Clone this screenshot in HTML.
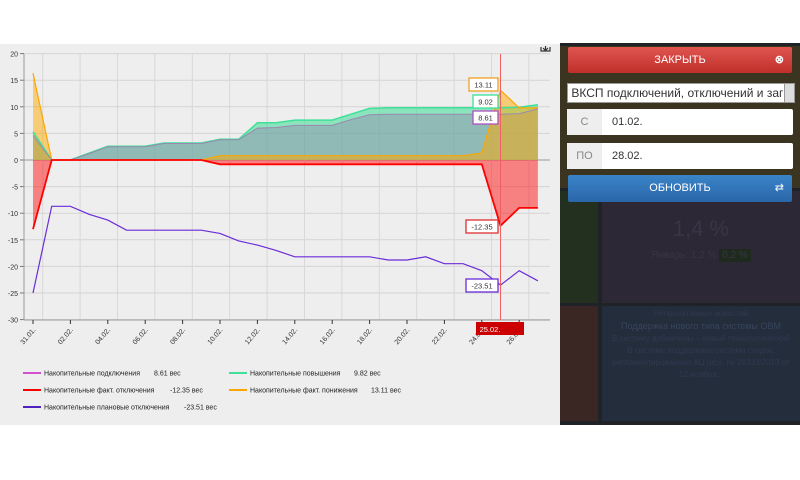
<!DOCTYPE html>
<html><head><meta charset="utf-8"><style>
body{margin:0;width:800px;height:480px;background:#fff;position:relative;overflow:hidden;font-family:"Liberation Sans",sans-serif}
#chart{position:absolute;left:0;top:44px;width:560px;height:381px;background:#eeeeee}
#panel{position:absolute;left:560px;top:43px;width:240px;height:382px;background:#1f2226}
.t{position:absolute}
.btn{position:absolute;left:8px;width:224px;height:26px;color:#fff;font-size:11px;text-align:center;line-height:26px;border-radius:2px}
</style></head><body>
<div id="chart"></div>
<svg width="560" height="430" style="position:absolute;left:0;top:0" font-family="Liberation Sans, sans-serif">
<g id="g"></g>
</svg>
<div id="panel">
 <div class="t" style="left:0;top:3px;width:240px;height:142px;background:#3a3421"></div>
 <div class="t" style="left:0;top:148px;width:38px;height:112px;background:#24301f"></div>
 <div class="t" style="left:42px;top:148px;width:198px;height:112px;background:#2c2836"></div>
 <div class="t" style="left:0;top:263px;width:38px;height:115px;background:#3a2723"></div>
 <div class="t" style="left:42px;top:263px;width:198px;height:115px;background:#232d3c"></div>
 <div class="t" style="left:42px;top:173px;width:198px;text-align:center;color:#3a3546;font-size:22px">1,4 %</div>
 <div class="t" style="left:42px;top:207px;width:198px;text-align:center;color:#3a3546;font-size:10px">Январь: 1,2 % <span style="background:#1f2a1f;padding:1px 3px">0,2 %</span></div>
 <div class="t" style="left:42px;top:265px;width:198px;text-align:center;color:#2f3a50;font-size:8px;line-height:12px;white-space:nowrap">Непрочитанных новостей<br><span style="font-size:9px;color:#37445c">Поддержка нового типа системы ОВМ</span><br>В систему добавлены – новый технологический<br>В системе поддержана система скидок,<br>регламентированных КЦ (исх. № 26333/2013 от<br>12 ноября...</div>
 <div class="btn" style="top:4px;background:linear-gradient(#e05550,#c0302a)">ЗАКРЫТЬ<span style="position:absolute;right:8px;font-weight:bold">⊗</span></div>
 <div class="t" style="left:7px;top:40px;width:226px;height:18px;background:#fff;border:1px solid #999;font-size:12px;line-height:18px;overflow:hidden;white-space:nowrap;color:#333">&nbsp;ВКСП подключений, отключений и заг<span style="position:absolute;right:0;top:0;width:9px;height:18px;background:#ddd;border-left:1px solid #999"></span></div>
 <div class="t" style="left:7px;top:66px;width:226px;height:26px;background:#fff;border-radius:2px;font-size:11px;line-height:26px"><span style="display:inline-block;width:35px;background:#eee;color:#888;text-align:center">С</span><span style="padding-left:10px;color:#333">01.02.</span></div>
 <div class="t" style="left:7px;top:100px;width:226px;height:26px;background:#fff;border-radius:2px;font-size:11px;line-height:26px"><span style="display:inline-block;width:35px;background:#eee;color:#888;text-align:center">ПО</span><span style="padding-left:10px;color:#333">28.02.</span></div>
 <div class="btn" style="top:132px;height:27px;background:linear-gradient(#3a84c8,#2a66a8)">ОБНОВИТЬ<span style="position:absolute;right:8px">⇄</span></div>
</div>
<script>
const X=d=>33+18.7*d, Y=v=>160-5.32*v;
let s='';
for(let v=20;v>=-30;v-=5){const y=Y(v);s+=`<line x1="24" x2="550" y1="${y}" y2="${y}" stroke="${v==0?'#999':'#d4d4d4'}"/><text x="18" y="${y+3}" font-size="7" text-anchor="end" fill="#333">${v}</text><line x1="20" x2="24" y1="${y}" y2="${y}" stroke="#777"/>`;}
for(let i=0;i<14;i++){const x=X(2*i+1)-9;s+=`<line x1="${x}" x2="${x}" y1="54" y2="320" stroke="#d8d8d8"/>`;}
s+=`<line x1="24" x2="24" y1="54" y2="320" stroke="#999"/><line x1="24" x2="550" y1="320" y2="320" stroke="#999"/>`;
const labs=['31.01.','02.02.','04.02.','06.02.','08.02.','10.02.','12.02.','14.02.','16.02.','18.02.','20.02.','22.02.','24.02.','26.02.'];
labs.forEach((l,i)=>{const x=X(2*i);s+=`<line x1="${x}" x2="${x}" y1="320" y2="324" stroke="#333"/><text transform="translate(${x+3},330) rotate(-50)" font-size="7" text-anchor="end" fill="#333">${l}</text>`;});
const green=[5.3,0,0,1.3,2.6,2.6,2.6,3.2,3.2,3.2,3.9,3.9,7,7,7.5,7.5,7.5,8.6,9.7,9.82,9.82,9.82,9.82,9.82,9.82,9.82,9.9,10.4];
const purp=[4.6,0,0,1.2,2.5,2.5,2.5,3.1,3.1,3.1,3.8,3.8,6,6.1,6.5,6.5,6.5,7.6,8.5,8.61,8.61,8.61,8.61,8.61,8.61,8.61,8.7,9.6];
const oran=[16.3,0,0,0,0,0,0,0,0,0,0.8,0.8,0.8,0.8,0.8,0.8,0.8,0.8,0.8,0.8,0.8,0.8,0.8,0.8,1.3,13.11,9.8,9.8];
const red=[-13,0,0,0,0,0,0,0,0,0,-0.8,-0.8,-0.8,-0.8,-0.8,-0.8,-0.8,-0.8,-0.8,-0.8,-0.8,-0.8,-0.8,-0.8,-0.8,-12.35,-9,-9];
const plan=[-25,-8.7,-8.7,-10.2,-11.3,-13.2,-13.2,-13.2,-13.2,-13.2,-13.8,-15.2,-16,-17,-18.2,-18.2,-18.2,-18.2,-18.2,-18.8,-18.8,-18.2,-19.5,-19.5,-20.8,-23.51,-20.8,-22.7];
const pts=a=>a.map((v,i)=>X(i).toFixed(1)+','+Y(v).toFixed(1)).join(' ');
const area=(a,f)=>`<polygon points="${X(0)},160 ${pts(a)} ${X(27)},160" fill="${f}"/>`;
s+=area(green,'rgba(60,220,150,0.55)')+area(purp,'rgba(150,110,170,0.35)')+area(oran,'rgba(255,170,0,0.5)')+area(red,'rgba(255,20,20,0.5)');
s+=`<polyline points="${pts(green)}" fill="none" stroke="#3ee09a" stroke-width="1.5"/>`;
s+=`<polyline points="${pts(purp)}" fill="none" stroke="#9a88b0" stroke-width="1"/>`;
s+=`<polyline points="${pts(oran)}" fill="none" stroke="#ffa500" stroke-width="1.2"/>`;
s+=`<polyline points="${pts(red)}" fill="none" stroke="#ff0000" stroke-width="1.8"/>`;
s+=`<polyline points="${pts(plan)}" fill="none" stroke="#6a2cd8" stroke-width="1.2"/>`;
s+=`<line x1="500.5" x2="500.5" y1="54" y2="320" stroke="#f06060"/>`;
const tip=(x,y,w,c,t)=>`<rect x="${x}" y="${y}" width="${w}" height="13" fill="#fff" stroke="${c}" stroke-width="1.3"/><text x="${x+w/2}" y="${y+9.5}" font-size="7.5" text-anchor="middle" fill="#333">${t}</text>`;
s+=tip(469,78,29,'#f0a020','13.11')+tip(473,95,25,'#3ee09a','9.02')+tip(473,111,25,'#b050c0','8.61')+tip(466,220,32,'#e03030','-12.35')+tip(466,279,32,'#6a2cd8','-23.51');
s+=`<rect x="476" y="322" width="48" height="13" fill="#cc0000"/><text x="490" y="332" font-size="7.5" fill="#fff" text-anchor="middle">25.02.</text>`;
s+=`<path d="M541 47v4h9v-4M545.5 46v4M543 48l2.5 2.5 2.5-2.5" stroke="#333" fill="none" stroke-width="1.2"/>`;
const leg=(x,y,c,t,v,vx)=>`<line x1="${x}" x2="${x+18}" y1="${y}" y2="${y}" stroke="${c}" stroke-width="2"/><text x="${x+21}" y="${y+2.5}" font-size="7" fill="#222">${t}</text><text x="${vx}" y="${y+2.5}" font-size="7" fill="#222">${v}</text>`;
s+=leg(23,373,'#d050d0','Накопительные подключения','8.61 вес',154)+leg(229,373,'#3ee09a','Накопительные повышения','9.82 вес',354)
 +leg(23,390,'#ff0000','Накопительные факт. отключения','-12.35 вес',170)+leg(229,390,'#ffa500','Накопительные факт. понижения','13.11 вес',371)
 +leg(23,407,'#5020c0','Накопительные плановые отключения','-23.51 вес',184);
document.getElementById('g').innerHTML=s;
</script>
</body></html>
